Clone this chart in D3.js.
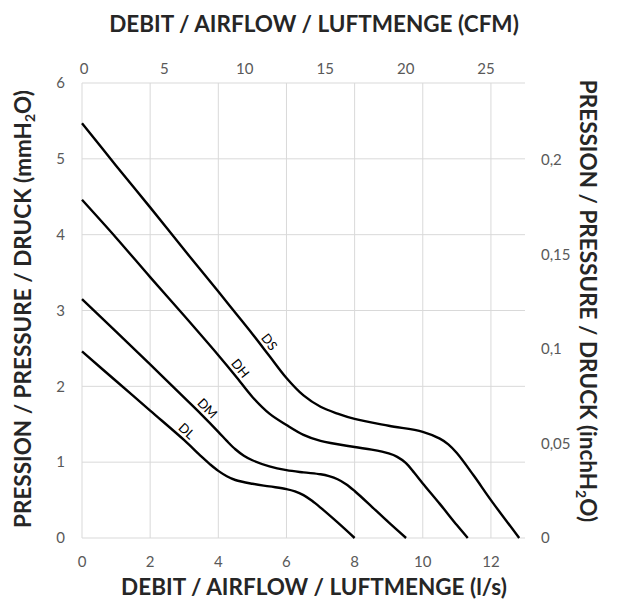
<!DOCTYPE html>
<html>
<head>
<meta charset="utf-8">
<script src="https://cdn.jsdelivr.net/npm/d3@7"></script>
<style>
  body { margin: 0; background: #fff; }
  svg { font-family: Lato, "Open Sans", sans-serif; }
  .tick-label { font-size: 15px; fill: #595959; }
  .title { font-size: 22.5px; font-weight: bold; fill: #262626; }
  .curve-label { font-size: 13px; fill: #000; }
</style>
</head>
<body>
<svg id="chart" width="617" height="601"></svg>
<script>
// flow in l/s, pressure in mmH2O
let dsFlow = [0, 1, 2, 3, 4, 4.5, 5, 5.5, 6, 6.5, 7, 7.5, 8, 9, 10, 10.5, 10.75, 11, 11.5, 12, 12.83]
let dsPressure = [5.47, 4.91, 4.36, 3.8, 3.25, 2.97, 2.69, 2.4, 2.11, 1.88, 1.73, 1.64, 1.57, 1.48, 1.4, 1.31, 1.235, 1.12, 0.82, 0.5, 0]
let dhFlow = [0, 1, 2, 3, 4, 4.5, 5, 5.5, 6, 6.5, 7, 8, 8.5, 9, 9.25, 9.5, 9.75, 10, 10.5, 11, 11.32]
let dhPressure = [4.46, 3.96, 3.44, 2.93, 2.41, 2.14, 1.86, 1.64, 1.49, 1.36, 1.28, 1.2, 1.165, 1.115, 1.07, 0.99, 0.86, 0.72, 0.45, 0.17, 0]
let dmFlow = [0, 1, 2, 3, 3.5, 4, 4.25, 4.5, 4.75, 5, 5.5, 6, 6.5, 7, 7.25, 7.5, 7.75, 8, 8.5, 9, 9.51]
let dmPressure = [3.15, 2.72, 2.29, 1.85, 1.63, 1.4, 1.28, 1.17, 1.085, 1.025, 0.945, 0.895, 0.865, 0.84, 0.815, 0.775, 0.71, 0.62, 0.415, 0.205, 0]
let dlFlow = [0, 1, 2, 3, 3.5, 3.75, 4, 4.25, 4.5, 5, 5.5, 6, 6.25, 6.5, 6.75, 7, 7.5, 8]
let dlPressure = [2.46, 2.07, 1.68, 1.29, 1.075, 0.975, 0.885, 0.815, 0.765, 0.715, 0.68, 0.645, 0.615, 0.565, 0.49, 0.4, 0.205, 0]

let seriesNames = ['DS', 'DH', 'DM', 'DL']
let labelFlow = [5.3, 4.45, 3.5, 2.9]

let lsTicks = [0, 2, 4, 6, 8, 10, 12]
let cfmTicks = [0, 5, 10, 15, 20, 25]
let mmTicks = [0, 1, 2, 3, 4, 5, 6]
let inchTicks = [0, 0.05, 0.1, 0.15, 0.2]

let flowMax = 13
let cfmPerLs = 2.1189
let mmMax = 6
let inchMax = 0.2407

let series = [
    {name: seriesNames[0], flow: dsFlow, pressure: dsPressure},
    {name: seriesNames[1], flow: dhFlow, pressure: dhPressure},
    {name: seriesNames[2], flow: dmFlow, pressure: dmPressure},
    {name: seriesNames[3], flow: dlFlow, pressure: dlPressure}
]

let svg = d3.select('#chart')
let plotLeft = 82, plotRight = 525, plotTop = 83, plotBottom = 538

let x = d3.scaleLinear().domain([0, flowMax]).range([plotLeft, plotRight])
let xTop = d3.scaleLinear().domain([0, flowMax * cfmPerLs]).range([plotLeft, plotRight])
let y = d3.scaleLinear().domain([0, mmMax]).range([plotBottom, plotTop])
let yRight = d3.scaleLinear().domain([0, inchMax]).range([plotBottom, plotTop])

//gridlines
svg.append('g').selectAll('line')
    .data(mmTicks)
    .enter()
    .append('line')
    .attr('x1', plotLeft).attr('x2', plotRight)
    .attr('y1', d => y(d)).attr('y2', d => y(d))
    .attr('stroke', '#d9d9d9').attr('stroke-width', 1)

svg.append('g').selectAll('line')
    .data(lsTicks)
    .enter()
    .append('line')
    .attr('x1', d => x(d)).attr('x2', d => x(d))
    .attr('y1', plotTop).attr('y2', plotBottom)
    .attr('stroke', '#d9d9d9').attr('stroke-width', 1)

//tick labels
svg.append('g').selectAll('text')
    .data(lsTicks)
    .enter()
    .append('text').attr('class', 'tick-label')
    .attr('x', d => x(d)).attr('y', 567)
    .attr('text-anchor', 'middle')
    .text(d => d)

svg.append('g').selectAll('text')
    .data(cfmTicks)
    .enter()
    .append('text').attr('class', 'tick-label')
    .attr('x', d => xTop(d) + 2).attr('y', 74)
    .attr('text-anchor', 'middle')
    .text(d => d)

svg.append('g').selectAll('text')
    .data(mmTicks)
    .enter()
    .append('text').attr('class', 'tick-label')
    .attr('x', 65).attr('y', d => y(d))
    .attr('dy', '0.35em')
    .attr('text-anchor', 'end')
    .text(d => d)

svg.append('g').selectAll('text')
    .data(inchTicks)
    .enter()
    .append('text').attr('class', 'tick-label')
    .attr('x', 541).attr('y', d => yRight(d))
    .attr('dy', '0.35em')
    .attr('text-anchor', 'start')
    .text(d => String(d).replace('.', ','))

//curves
let line = d3.line()
    .x(d => x(d[0]))
    .y(d => y(d[1]))
    .curve(d3.curveCatmullRom.alpha(0.5))

series.forEach(function (s, i) {
    let pts = s.flow.map((f, k) => [f, s.pressure[k]])
    svg.append('path')
        .attr('d', line(pts))
        .attr('fill', 'none')
        .attr('stroke', '#000')
        .attr('stroke-width', 2.4)

    // label sits just above the curve, turned along it
    let onCurve = d3.scaleLinear().domain(s.flow).range(s.pressure)
    let lf = labelFlow[i]
    let px = x(lf), py = y(onCurve(lf))
    let ang = Math.atan2(y(onCurve(lf + 0.3)) - py, x(lf + 0.3) - px)
    let nx = Math.sin(ang) * 8.5, ny = -Math.cos(ang) * 8.5
    svg.append('text').attr('class', 'curve-label')
        .attr('text-anchor', 'middle')
        .attr('transform', `translate(${px + nx},${py + ny}) rotate(${ang * 180 / Math.PI})`)
        .attr('dy', '0.35em')
        .text(s.name)
})

//axis titles
svg.append('text').attr('class', 'title')
    .attr('x', 314).attr('y', 31.5)
    .attr('text-anchor', 'middle')
    .text('DEBIT / AIRFLOW / LUFTMENGE (CFM)')

svg.append('text').attr('class', 'title')
    .attr('x', 314).attr('y', 595)
    .attr('text-anchor', 'middle')
    .text('DEBIT / AIRFLOW / LUFTMENGE (l/s)')

function pressureTitle(cx, cy, rot, unit) {
    let t = svg.append('text').attr('class', 'title')
        .attr('text-anchor', 'middle')
        .attr('transform', `translate(${cx},${cy}) rotate(${rot})`)
        .attr('dy', '0.35em')
    t.append('tspan').text('PRESSION / PRESSURE / DRUCK (' + unit + 'H')
    t.append('tspan').attr('font-size', '14px').attr('baseline-shift', '-25%').text('2')
    t.append('tspan').attr('baseline-shift', '0').text('O)')
}
pressureTitle(23.5, 309, -90, 'mm')
pressureTitle(588, 301, 90, 'inch')
</script>
</body>
</html>
